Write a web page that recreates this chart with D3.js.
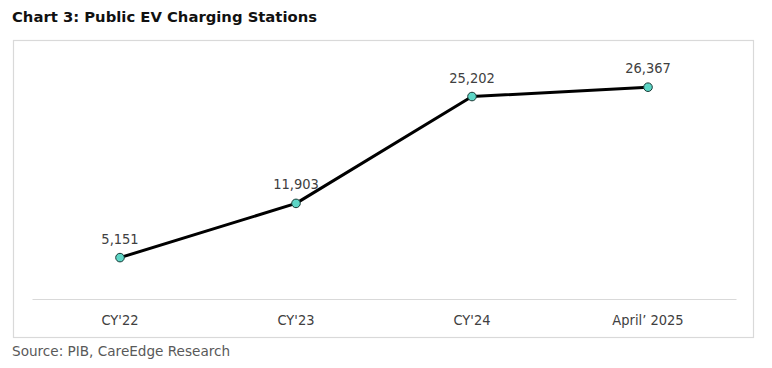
<!DOCTYPE html>
<html>
<head>
<meta charset="utf-8">
<script src="https://cdn.jsdelivr.net/npm/d3@7"></script>
<style>
  body { margin: 0; background: #fff; }
  svg { display: block; font-family: "DejaVu Sans", Verdana, sans-serif; }
</style>
</head>
<body>
<svg id="chart"></svg>
<script>
const categories = ["CY'22", "CY'23", "CY'24", "April\u2019 2025"];
const stations = [5151, 11903, 25202, 26367];
const yDomain = [0, 30000];

const W = 772, H = 368;
const svg = d3.select('#chart').attr('width', W).attr('height', H);

// title + source
svg.append('text')
  .attr('x', 12).attr('y', 22)
  .attr('font-weight', 'bold').attr('font-size', 14.8)
  .attr('fill', '#111')
  .text('Chart 3: Public EV Charging Stations');

svg.append('rect')
  .attr('x', 13.5).attr('y', 40.5)
  .attr('width', 740).attr('height', 297)
  .attr('fill', 'none').attr('stroke', '#d9d9d9').attr('stroke-width', 1.2);

svg.append('text')
  .attr('x', 12).attr('y', 356)
  .attr('font-size', 13.6).attr('fill', '#595959')
  .text('Source: PIB, CareEdge Research');

const xScale = d3.scaleBand()
  .domain(categories)
  .range([32, 736]);

const yScale = d3.scaleLinear()
  .domain(yDomain)
  .range([299, 58]);

const xAxis = d3.axisBottom(xScale).tickSize(0).tickPadding(16);

const xAxisG = svg.append('g')
  .attr('transform', `translate(0, ${yScale(0)})`)
  .call(xAxis);
xAxisG.select('.domain').attr('stroke', '#d9d9d9').attr('stroke-width', 1.2);
xAxisG.selectAll('text')
  .attr('font-size', 14.5).attr('fill', '#404040')
  .attr('font-family', '"DejaVu Sans Condensed", "DejaVu Sans", sans-serif');

const cx = d => xScale(d) + xScale.bandwidth() / 2;
const pts = categories.map((c, i) => ({ c, v: stations[i] }));

svg.append('path')
  .datum(pts)
  .attr('fill', 'none')
  .attr('stroke', '#000')
  .attr('stroke-width', 3)
  .attr('stroke-linejoin', 'round')
  .attr('d', d3.line().x(d => cx(d.c)).y(d => yScale(d.v)));

svg.selectAll('circle.pt')
  .data(pts).enter()
  .append('circle')
  .attr('class', 'pt')
  .attr('cx', d => cx(d.c))
  .attr('cy', d => yScale(d.v))
  .attr('r', 4.3)
  .attr('fill', '#5dd6c6')
  .attr('stroke', '#1a3a36')
  .attr('stroke-width', 1);

svg.selectAll('text.lbl')
  .data(pts).enter()
  .append('text')
  .attr('class', 'lbl')
  .attr('x', d => cx(d.c))
  .attr('y', d => yScale(d.v) - 14)
  .attr('text-anchor', 'middle')
  .attr('font-size', 14.5).attr('fill', '#404040')
  .attr('font-family', '"DejaVu Sans Condensed", "DejaVu Sans", sans-serif')
  .text(d => d3.format(',')(d.v));
</script>
</body>
</html>
